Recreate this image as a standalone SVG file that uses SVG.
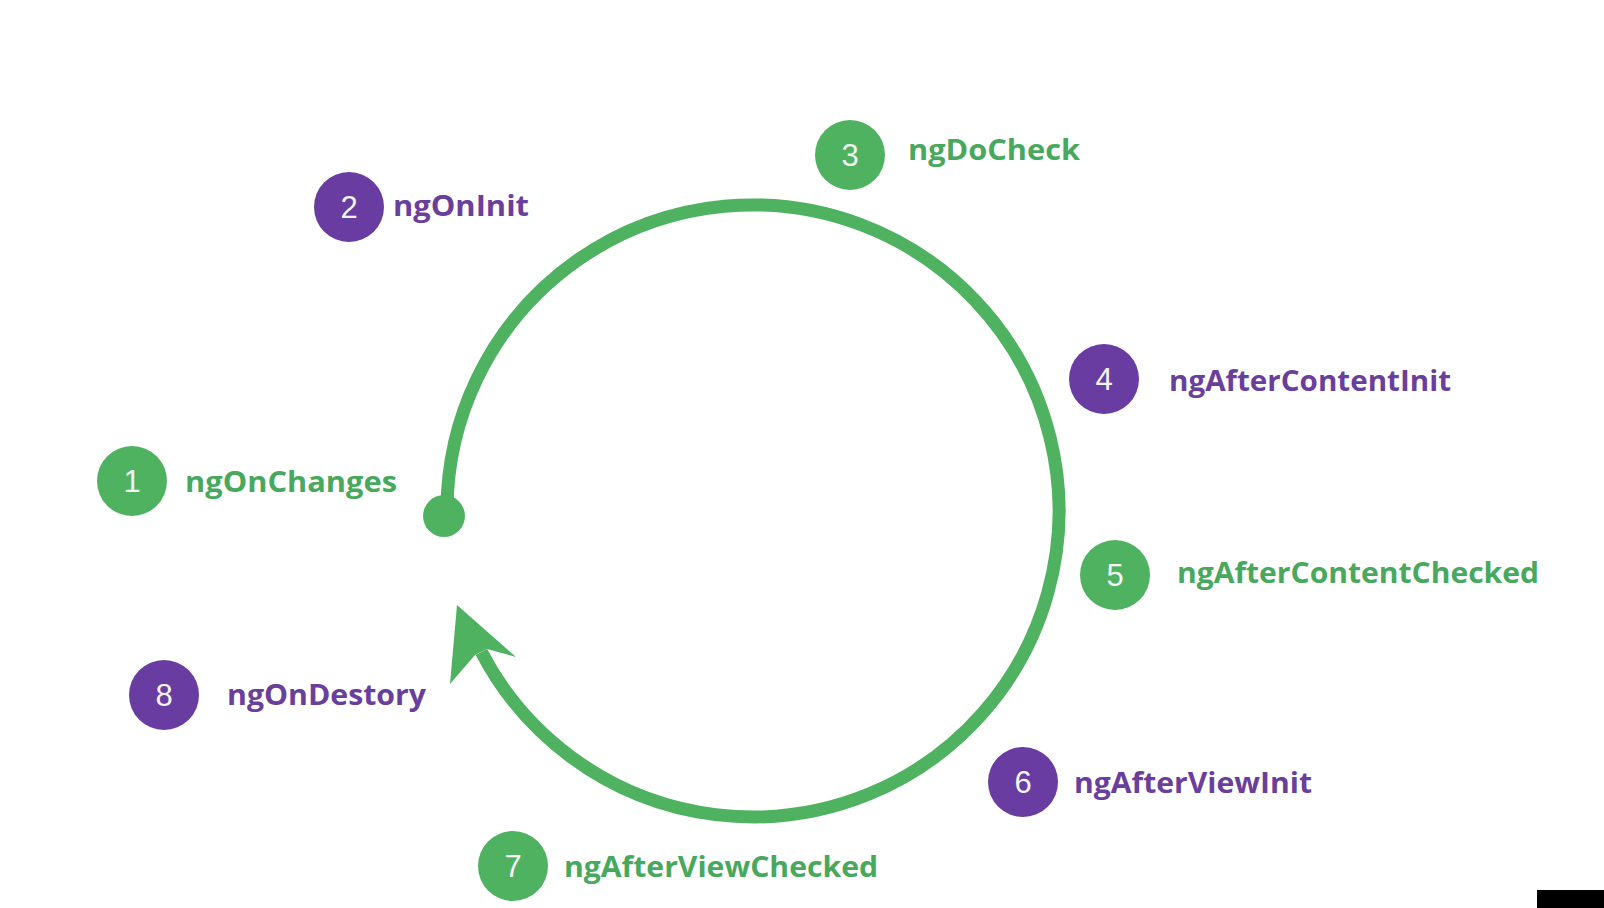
<svg xmlns="http://www.w3.org/2000/svg" width="1604" height="908" viewBox="0 0 1604 908">
<style>
.bg{fill:#ffffff}
.g{fill:#4fb260}
.p{fill:#683ca0}
.num{font-family:"Liberation Sans",Arial,sans-serif;font-size:31px;fill:#f4f4f4;text-anchor:middle}
.lbl{font-family:"Open Sans","DejaVu Sans",sans-serif;font-size:29px;font-weight:bold}
.lg{fill:#48a85e}
.lp{fill:#6a3f9c}
.arc{fill:none;stroke:#4fb260;stroke-width:13}
</style>
<rect class="bg" x="0" y="0" width="1604" height="908"/>
<g id="connectors">
<path class="arc" d="M 447 513 A 306 306 0 1 1 481.4 651.9"/>
<circle class="g" cx="444" cy="516" r="21"/>
<polygon class="g" points="457,605 516,657 487,649 475,655 450,684"/>
</g>
<g id="n1"><circle class="g" cx="132" cy="481" r="35"/><text class="num" x="132" y="492">1</text><text class="lbl lg" x="185" y="492" textLength="212" lengthAdjust="spacingAndGlyphs">ngOnChanges</text></g>
<g id="n2"><circle class="p" cx="349" cy="207" r="35"/><text class="num" x="349" y="218">2</text><text class="lbl lp" x="393" y="216" textLength="136" lengthAdjust="spacingAndGlyphs">ngOnInit</text></g>
<g id="n3"><circle class="g" cx="850" cy="155" r="35"/><text class="num" x="850" y="166">3</text><text class="lbl lg" x="908" y="160" textLength="172" lengthAdjust="spacingAndGlyphs">ngDoCheck</text></g>
<g id="n4"><circle class="p" cx="1104" cy="379" r="35"/><text class="num" x="1104" y="390">4</text><text class="lbl lp" x="1169" y="391" textLength="282" lengthAdjust="spacingAndGlyphs">ngAfterContentInit</text></g>
<g id="n5"><circle class="g" cx="1115" cy="575" r="35"/><text class="num" x="1115" y="586">5</text><text class="lbl lg" x="1177" y="583" textLength="362" lengthAdjust="spacingAndGlyphs">ngAfterContentChecked</text></g>
<g id="n6"><circle class="p" cx="1023" cy="782" r="35"/><text class="num" x="1023" y="793">6</text><text class="lbl lp" x="1074" y="793" textLength="238" lengthAdjust="spacingAndGlyphs">ngAfterViewInit</text></g>
<g id="n7"><circle class="g" cx="513" cy="866" r="35"/><text class="num" x="513" y="877">7</text><text class="lbl lg" x="564" y="877" textLength="314" lengthAdjust="spacingAndGlyphs">ngAfterViewChecked</text></g>
<g id="n8"><circle class="p" cx="164" cy="695" r="35"/><text class="num" x="164" y="706">8</text><text class="lbl lp" x="227" y="705" textLength="199" lengthAdjust="spacingAndGlyphs">ngOnDestory</text></g>
<rect x="1537" y="890" width="67" height="18" fill="#000000"/>
</svg>
